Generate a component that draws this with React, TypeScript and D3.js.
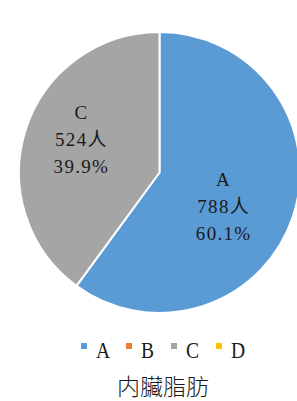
import { useEffect, useRef } from 'react';
import * as d3 from 'd3';

const categories = ['A', 'B', 'C', 'D'];
const counts = [788, 0, 524, 0];
const percents = ['60.1%', '0.0%', '39.9%', '0.0%'];
const colors = ['#5B9BD5', '#ED7D31', '#A5A5A5', '#FFC000'];
const title = '内臟脂肪';

export default function App() {
    const svgRef = useRef<SVGSVGElement>(null);

    useEffect(() => {
        const width = 297;
        const height = 401;
        const cx = 159.5;
        const cy = 172.5;
        const radius = 140.5;

        const svg = d3.select(svgRef.current);
        svg.selectAll('*').remove();
        svg.attr('width', width).attr('height', height);

        const data = categories.map((c, i) => ({ name: c, value: counts[i], pct: percents[i], color: colors[i] }));

        const pie = d3.pie<any>().value((d) => d.value).sort(null);
        const arc = d3.arc<any>().innerRadius(0).outerRadius(radius);
        const labelArc = d3.arc<any>().innerRadius(radius * 0.6).outerRadius(radius * 0.6);

        const g = svg.append('g').attr('transform', `translate(${cx},${cy})`);
        const arcs = pie(data);

        g.selectAll('path')
            .data(arcs.filter((d) => d.data.value > 0))
            .enter()
            .append('path')
            .attr('d', arc)
            .attr('fill', (d) => d.data.color)
            .attr('stroke', 'white')
            .attr('stroke-width', 2)
            .attr('stroke-linejoin', 'round');

        // data labels (nudged like Excel's best fit)
        const nudge: Record<string, [number, number]> = { A: [-16, 8], C: [2, -6] };
        const labels = g
            .selectAll('.lbl')
            .data(arcs.filter((d) => d.data.value > 0))
            .enter()
            .append('text')
            .attr('class', 'lbl')
            .attr('text-anchor', 'middle')
            .style('font-family', '"Liberation Serif", "Noto Sans CJK SC", serif')
            .style('font-size', '19px')
            .style('letter-spacing', '1.3px')
            .style('fill', '#1a1a1a')
            .attr('transform', (d) => {
                const [x, y] = labelArc.centroid(d);
                const n = nudge[d.data.name] || [0, 0];
                return `translate(${x + n[0]},${y + n[1]})`;
            });

        labels.each(function (d) {
            const t = d3.select(this);
            const lines = [d.data.name, `${d.data.value}人`, d.data.pct];
            lines.forEach((l, i) => {
                t.append('tspan')
                    .attr('x', 0)
                    .attr('y', (i - 1) * 27 + 6)
                    .text(l);
            });
        });

        // legend
        const legendX = d3.scaleBand().domain(categories).range([79, 259]);
        const legend = svg
            .selectAll('.leg')
            .data(data)
            .enter()
            .append('g')
            .attr('class', 'leg')
            .attr('transform', (d) => `translate(${legendX(d.name)},0)`);
        legend
            .append('rect')
            .attr('x', 2)
            .attr('y', 343)
            .attr('width', 6)
            .attr('height', 6)
            .attr('fill', (d) => d.color);
        legend
            .append('text')
            .attr('transform', 'translate(17,358) scale(0.85,1)')
            .style('font-family', '"Liberation Serif", serif')
            .style('font-size', '23px')
            .style('fill', '#1a1a1a')
            .text((d) => d.name);

        svg.append('text')
            .attr('x', 163)
            .attr('y', 395)
            .attr('text-anchor', 'middle')
            .style('font-family', '"Noto Sans CJK TC", "Noto Sans CJK SC", sans-serif')
            .style('font-size', '23px')
            .style('font-weight', 300)
            .style('fill', '#1a1a1a')
            .text(title);
    }, []);

    return (
        <div style={{ position: 'absolute', left: 0, top: 0 }}>
            <svg ref={svgRef}></svg>
        </div>
    );
}
